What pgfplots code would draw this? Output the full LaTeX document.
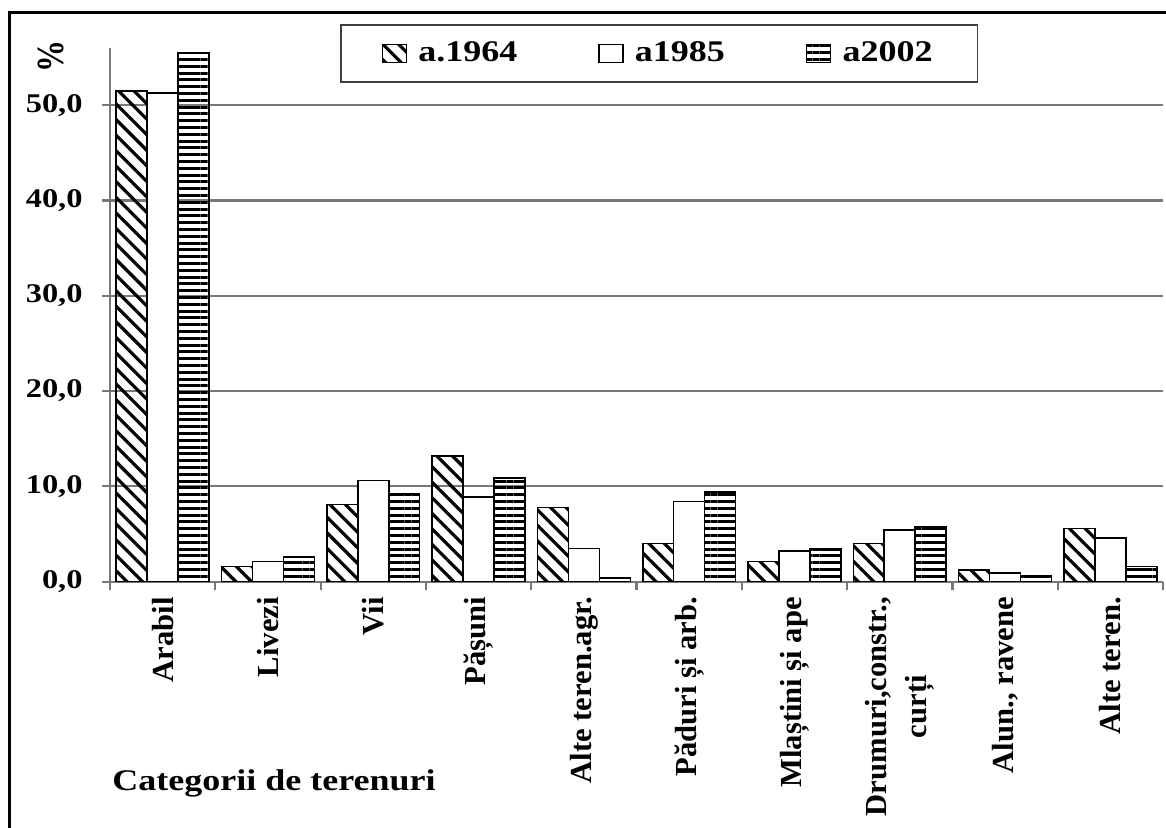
\documentclass[border=0pt]{standalone}
\usepackage{pgfplots}
\pgfplotsset{compat=1.18}
\usepackage{fontspec}
\setmainfont{Liberation Serif}
\usepackage{graphicx}
\usetikzlibrary{patterns.meta}
\newcommand{\hs}[1]{\scalebox{1.2}[1]{#1}}
\definecolor{gridgray}{RGB}{120,120,120}
\pgfplotsset{boxlegend/.style={legend image code/.code={\draw[##1, line width=0.6pt] (0pt,-4.5pt) rectangle (12pt,4.5pt); \path[draw=none, fill=none] (0pt,0pt) -- (16pt,0pt);}}}
\begin{document}
\begin{tikzpicture}[x=1pt,y=1pt]
\useasboundingbox (0,0) rectangle (583,414);
\draw[line width=1.5pt] (4.5,0) -- (4.5,407.5) -- (583,407.5);
\begin{axis}[
  at={(55pt,123.15pt)}, anchor=south west,
  scale only axis, width=526.5pt, height=266.85pt,
  xmin=-0.5, xmax=9.5, ymin=0, ymax=56,
  ybar=0pt, bar width=0.294,
  axis lines*=left,
  axis line style={draw=gridgray, line width=1.1pt},
  ymajorgrids, grid style={draw=gridgray, line width=1.1pt},
  ytick={0,10,20,30,40,50},
  yticklabels={{\hs{0,0}},{\hs{10,0}},{\hs{20,0}},{\hs{30,0}},{\hs{40,0}},{\hs{50,0}}},
  yticklabel style={font=\bfseries\fontsize{13.5}{16}\selectfont, xshift=-6pt},
  xtick={0,...,9},
  xticklabels={Arabil,Livezi,Vii,Pășuni,Alte teren.agr.,Păduri și arb.,Mlaștini și ape,{Drumuri,constr.,\\curți},{Alun., ravene},Alte teren.},
  xticklabel style={rotate=90, anchor=east, align=center, font=\bfseries\fontsize{15.3}{20}\selectfont},
  major x tick style={draw=none},
  minor xtick={-0.5,0.5,...,9.5},
  tick align=outside,
  major tick length=4.2pt, minor tick length=4pt,
  tick style={draw=gridgray, line width=1.1pt},
  legend style={at={(0.2184,1.045)}, anchor=north west, draw=black!75, line width=0.8pt, fill=white,
    font=\bfseries\fontsize{15}{18}\selectfont, inner xsep=20.5pt, inner ysep=6.5pt,
    /tikz/every even column/.append style={column sep=38.5pt}},
  legend columns=3,
]
\addplot[draw=black, line width=0.8pt, pattern={Lines[angle=-45, distance=5.5pt, line width=1.6pt]}, pattern color=black, boxlegend]
  coordinates {(0,51.5) (1,1.6) (2,8.1) (3,13.2) (4,7.8) (5,4.0) (6,2.1) (7,4.0) (8,1.2) (9,5.6)};
\addlegendentry{\hs{a.1964}}
\addplot[draw=black, line width=0.8pt, fill=white, boxlegend]
  coordinates {(0,51.3) (1,2.1) (2,10.6) (3,8.9) (4,3.5) (5,8.4) (6,3.2) (7,5.4) (8,0.9) (9,4.6)};
\addlegendentry{\hs{a1985}}
\addplot[draw=black, line width=0.8pt, pattern={Lines[angle=0, distance=3.4pt, line width=1.5pt]}, pattern color=black, boxlegend]
  coordinates {(0,55.5) (1,2.6) (2,9.2) (3,10.9) (4,0.4) (5,9.4) (6,3.4) (7,5.8) (8,0.6) (9,1.6)};
\addlegendentry{\hs{a2002}}
\end{axis}
\node[rotate=90, font=\bfseries\fontsize{16}{18}\selectfont, inner sep=0] at (25.5,385.5) {\scalebox{1}[1.2]{\%}};
\node[anchor=base west, font=\bfseries\fontsize{15}{18}\selectfont, inner sep=0] at (56,18.5) {\hs{Categorii de terenuri}};
\end{tikzpicture}
\end{document}
